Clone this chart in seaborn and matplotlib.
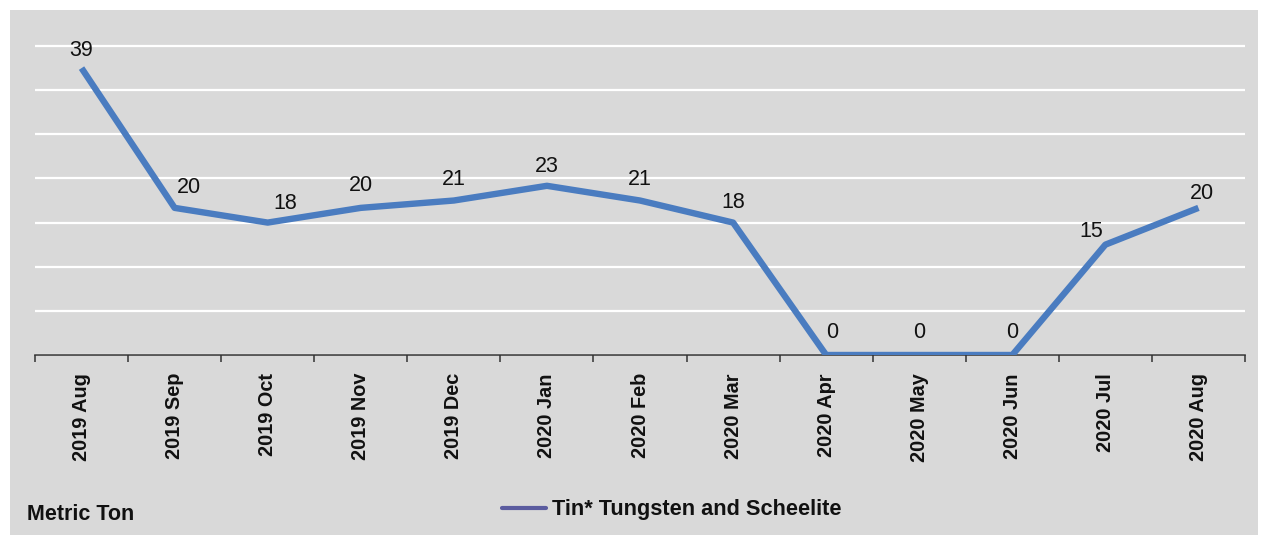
import matplotlib
matplotlib.use("Agg")
import matplotlib.pyplot as plt
from matplotlib.patches import Rectangle
from matplotlib.lines import Line2D
from matplotlib.ticker import FixedLocator, MultipleLocator
import seaborn as sns
import pandas as pd

# ---- data ----
months = ["2019 Aug", "2019 Sep", "2019 Oct", "2019 Nov", "2019 Dec", "2020 Jan",
          "2020 Feb", "2020 Mar", "2020 Apr", "2020 May", "2020 Jun", "2020 Jul",
          "2020 Aug"]
values = [39, 20, 18, 20, 21, 23, 21, 18, 0, 0, 0, 15, 20]
series_name = "Tin* Tungsten and Scheelite"
unit_label = "Metric Ton"

# label nudges (pixels) to mimic the reference placement
label_dx = [0, 14, 18, 0, 0, 0, 0, 0, 6, 0, 0, -14, 3]
label_dy = [18, 20, 19, 22, 21, 19, 21, 20, 23, 23, 23, 13, 14]

sns.set_theme(style="white")
plt.rcParams["font.family"] = ["Liberation Sans", "DejaVu Sans"]

BG = "#d9d9d9"
LINE = "#4a7cc0"

fig = plt.figure(figsize=(12.68, 5.35), dpi=100, facecolor="white")
fig.patches.append(Rectangle((10 / 1268, 0), 1248 / 1268, 1 - 10 / 535,
                             transform=fig.transFigure, facecolor=BG,
                             edgecolor="none", zorder=-10))

ax = fig.add_axes([35 / 1268, 1 - 355 / 535, 1210 / 1268, (355 - 35) / 535])
ax.set_facecolor("none")

df = pd.DataFrame({"month": months, "value": values})
sns.lineplot(data=df, x="month", y="value", ax=ax, color=LINE, linewidth=4.6,
             sort=False, legend=False, solid_capstyle="butt", zorder=3)

ax.set_xlim(-0.5, len(months) - 0.5)
ax.set_ylim(0, 43.5)

# gridlines
ax.yaxis.set_major_locator(MultipleLocator(6))
ax.grid(axis="y", color="white", linewidth=1.6, zorder=0)
ax.grid(axis="x", visible=False)
ax.tick_params(axis="y", left=False, labelleft=False)

# spines
for s in ["top", "right", "left"]:
    ax.spines[s].set_visible(False)
ax.spines["bottom"].set_color("#333333")
ax.spines["bottom"].set_linewidth(1.1)
ax.spines["bottom"].set_zorder(2)

# x ticks: labels at centers, tick marks at boundaries
ax.set_xticks(range(len(months)))
ax.set_xticklabels(months, rotation=90, fontsize=14.3, fontweight="bold",
                   color="#111111")
ax.tick_params(axis="x", which="major", length=0, pad=13)
ax.xaxis.set_minor_locator(FixedLocator([i - 0.5 for i in range(len(months) + 1)]))
ax.tick_params(axis="x", which="minor", bottom=True, length=5, width=1.1,
               color="#333333", direction="out")
ax.set_xlabel("")
ax.set_ylabel("")

# data labels
for i, v in enumerate(values):
    ax.annotate(str(v), (i, v), xytext=(label_dx[i], label_dy[i]),
                textcoords="offset pixels", ha="center", va="center",
                fontsize=15.5, color="#111111", zorder=4)

# legend
handle = Line2D([0], [0], color="#5b5c9f", linewidth=3)
leg = fig.legend([handle], [series_name], loc="center",
                 bbox_to_anchor=(672 / 1268, 1 - 510 / 535), frameon=False,
                 prop={"size": 15.7, "weight": "bold"}, handlelength=2.0,
                 handletextpad=0.3)
for t in leg.get_texts():
    t.set_color("#111111")

fig.text(27 / 1268, 1 - 515 / 535, unit_label, fontsize=15.5, fontweight="bold",
         va="center", ha="left", color="#111111")

fig.savefig("out.png", dpi=100, facecolor=fig.get_facecolor())
